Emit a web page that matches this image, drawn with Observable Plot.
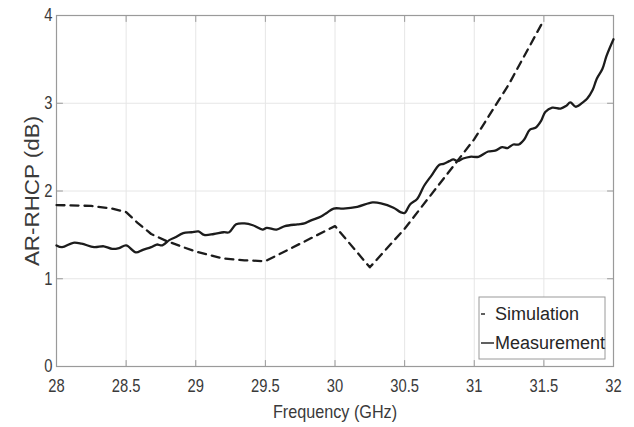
<!DOCTYPE html>
<html>
<head>
<meta charset="utf-8">
<script src="https://cdn.jsdelivr.net/npm/d3@7"></script>
<script src="https://cdn.jsdelivr.net/npm/@observablehq/plot@0.6"></script>
<style>
  html, body { margin: 0; padding: 0; background: #fff; }
  #chart svg { display: block; }
</style>
</head>
<body>
<div id="chart"></div>
<script>
// Axial ratio (RHCP) versus frequency: simulated and measured curves
const simFreq = [28, 28.25, 28.4, 28.5, 28.58, 28.68, 28.79, 28.91, 29.0, 29.2, 29.35, 29.5, 30.0, 30.25, 30.5, 30.75, 31.0, 31.25, 31.5];
const simAR   = [1.84, 1.83, 1.80, 1.76, 1.64, 1.51, 1.43, 1.36, 1.31, 1.23, 1.21, 1.20, 1.60, 1.13, 1.57, 2.08, 2.59, 3.22, 3.95];

const measFreq = [28.00, 28.04, 28.12, 28.18, 28.27, 28.34, 28.40, 28.45, 28.50, 28.57, 28.62, 28.68, 28.72, 28.76, 28.81, 28.85, 28.91, 28.97,
  29.02, 29.06, 29.13, 29.20, 29.24, 29.29, 29.35, 29.41, 29.48, 29.51, 29.58, 29.64, 29.73, 29.78, 29.82, 29.90, 29.94, 29.99,
  30.06, 30.16, 30.27, 30.33, 30.42, 30.47, 30.50, 30.54, 30.59, 30.64, 30.69, 30.75, 30.78, 30.82, 30.85, 30.88, 30.92, 30.97,
  31.03, 31.10, 31.15, 31.20, 31.24, 31.28, 31.32, 31.36, 31.40, 31.44, 31.48, 31.51, 31.56, 31.62, 31.66, 31.69, 31.73, 31.78,
  31.81, 31.85, 31.88, 31.92, 31.95, 32.00];
const measAR = [1.38, 1.36, 1.41, 1.40, 1.36, 1.37, 1.34, 1.35, 1.38, 1.30, 1.33, 1.36, 1.39, 1.38, 1.44, 1.47, 1.52, 1.53,
  1.54, 1.50, 1.51, 1.53, 1.53, 1.62, 1.63, 1.61, 1.56, 1.58, 1.56, 1.60, 1.62, 1.63, 1.66, 1.71, 1.75, 1.80,
  1.80, 1.82, 1.87, 1.86, 1.81, 1.76, 1.75, 1.85, 1.91, 2.06, 2.17, 2.30, 2.31, 2.34, 2.36, 2.34, 2.37, 2.39,
  2.39, 2.45, 2.46, 2.50, 2.49, 2.53, 2.53, 2.59, 2.70, 2.72, 2.80, 2.90, 2.95, 2.94, 2.97, 3.01, 2.96, 3.01,
  3.05, 3.15, 3.28, 3.39, 3.54, 3.73];

const xTicks = [28, 28.5, 29, 29.5, 30, 30.5, 31, 31.5, 32];
const yTicks = [0, 1, 2, 3, 4];
const xLabel = "Frequency (GHz)";
const yLabel = "AR-RHCP (dB)";
const seriesNames = ["Simulation", "Measurement"];

const sim = simFreq.map((f, i) => ({f, v: simAR[i]}));
const meas = measFreq.map((f, i) => ({f, v: measAR[i]}));

const axisGray = "#9a9a9a";
const ink = "#1c1c1c";
const textInk = "#3a3a3a";
const font = "'Liberation Sans', Arial, sans-serif";

// short inward tick drawn by Plot.vector
const tickShape = {draw(ctx, l) { ctx.moveTo(0, 0); ctx.lineTo(0, -l); }};
const tickOpts = {length: 6, anchor: "start", shape: tickShape, stroke: axisGray, strokeWidth: 1};

const chart = Plot.plot({
  width: 634,
  height: 427,
  marginLeft: 56,
  marginRight: 21,
  marginTop: 15,
  marginBottom: 61,
  style: {fontFamily: font, fontSize: "18px", color: textInk, background: "#fff"},
  x: {domain: [28, 32]},
  y: {domain: [0, 4]},
  marks: [
    Plot.gridX(xTicks, {stroke: "#e6e6e6", strokeOpacity: 1}),
    Plot.gridY(yTicks, {stroke: "#e6e6e6", strokeOpacity: 1}),
    Plot.frame({stroke: axisGray, strokeWidth: 1.2}),
    // inward ticks on all four sides
    Plot.vector(xTicks, {x: d => d, y: 0, rotate: 0, ...tickOpts}),
    Plot.vector(xTicks, {x: d => d, y: 4, rotate: 180, ...tickOpts}),
    Plot.vector(yTicks, {x: 28, y: d => d, rotate: 90, ...tickOpts}),
    Plot.vector(yTicks, {x: 32, y: d => d, rotate: -90, ...tickOpts}),
    Plot.axisX(xTicks, {tickSize: 0, tickPadding: 13, label: null, tickFormat: d => String(d), fill: textInk, fontSize: 18}),
    Plot.axisY(yTicks, {tickSize: 0, tickPadding: 4, label: null, tickFormat: d => String(d), fill: textInk, fontSize: 18}),
    Plot.text([xLabel], {frameAnchor: "bottom", dy: 46, textAnchor: "middle", lineAnchor: "middle", fontSize: 18, fill: textInk}),
    Plot.text([yLabel], {frameAnchor: "left", dx: -24, rotate: -90, textAnchor: "middle", lineAnchor: "middle", fontSize: 19.5, fill: textInk}),
    Plot.line(sim, {x: "f", y: "v", stroke: ink, strokeWidth: 2.3, strokeDasharray: "8,6"}),
    Plot.line(meas, {x: "f", y: "v", stroke: ink, strokeWidth: 2.3, curve: "catmull-rom"})
  ]
});

document.getElementById("chart").append(chart);

const svg = d3.select(chart);

// condensed look for the tick and axis labels
function squeeze(sel, sx, sy) {
  sel.each(function() {
    const t = this.getAttribute("transform") || "";
    this.setAttribute("transform", `${t} scale(${sx},${sy})`);
  });
}
squeeze(svg.selectAll('[aria-label="x-axis tick label"] text, [aria-label="y-axis tick label"] text'), 0.82, 1);
svg.selectAll("text").filter(function() { return this.textContent === xLabel; }).call(squeeze, 0.9, 1);
svg.selectAll("text").filter(function() { return this.textContent === yLabel; }).call(squeeze, 1.15, 1);

// legend box in the lower-right corner of the axes
const xs = chart.scale("x"), ys = chart.scale("y");
const right = xs.apply(32), bottom = ys.apply(0);
const boxW = 126, boxH = 62;
const bx = right - 8 - boxW, by = bottom - 7 - boxH;
const g = svg.append("g").attr("font-family", font).attr("font-size", 18)
  .attr("fill", "#262626").attr("text-anchor", "start");
g.append("rect").attr("x", bx).attr("y", by).attr("width", boxW).attr("height", boxH)
  .attr("fill", "#fff").attr("stroke", axisGray).attr("stroke-width", 1);
const rows = [
  {name: seriesNames[0], y: by + 17, x2: bx + 6},
  {name: seriesNames[1], y: by + 46, x2: bx + 15}
];
rows.forEach(r => {
  g.append("line").attr("x1", bx + 2).attr("x2", r.x2).attr("y1", r.y).attr("y2", r.y)
    .attr("stroke", ink).attr("stroke-width", 1.4);
  g.append("text").attr("x", bx + 16).attr("y", r.y).attr("dy", "0.36em").text(r.name);
});
</script>
</body>
</html>
